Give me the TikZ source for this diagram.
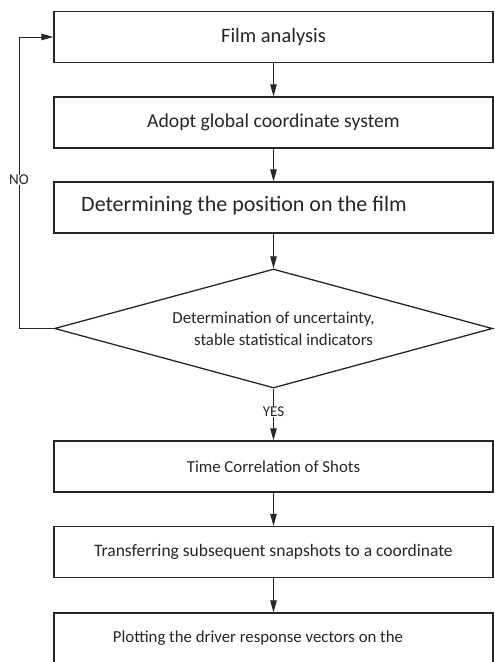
\documentclass[tikz,border=0pt]{standalone}
\usepackage{fontspec}
\setmainfont{Carlito}
\usetikzlibrary{shapes.geometric, arrows.meta}

\begin{document}
\begin{tikzpicture}[x=1pt, y=-1pt,
    box/.style={draw=black!85, line width=1.3pt, rectangle, minimum width=439pt,
        minimum height=51pt, inner sep=0pt, text=black!85, font=\fontsize{16.8}{20}\selectfont},
    decision/.style={draw=black!85, line width=1.3pt, diamond, aspect=3.68,
        minimum width=438pt, minimum height=119pt, inner sep=0pt, align=center, text=black!85,
        font=\fontsize{16.8}{22}\selectfont},
    arr/.style={-{Triangle[length=12pt, width=6.5pt]}, line width=1pt, black!85},
    lbl/.style={font=\fontsize{15}{17}\selectfont, text=black!85, inner sep=0pt}]
    \useasboundingbox (0,0) rectangle (495,662);
    \clip (0,0) rectangle (495,662);

    \node[box, font=\fontsize{20.5}{24}\selectfont] (film) at (273.5,37) {Film analysis};
    \node[box, font=\fontsize{19.7}{24}\selectfont] (adopt) at (273.5,122.5) {Adopt global coordinate system};
    \node[box] (pos) at (273.5,207.5) {};
    \node[lbl, font=\fontsize{22}{26}\selectfont] (postxt) at (244,206) {Determining the position on the film};
    \node[decision] (unc) at (273.5,328.5) {Determination of uncertainty,\\ \hspace{1.2em}stable statistical indicators};
    \node[box] (time) at (273.5,466.5) {Time Correlation of Shots};
    \node[box, font=\fontsize{17.5}{20}\selectfont] (trans) at (273.5,552) {Transferring subsequent snapshots to a coordinate};
    \node[box, minimum height=60pt] (plot) at (273.5,643) {};
    \node[lbl, font=\fontsize{16.8}{20}\selectfont] (plottxt) at (258,638) {Plotting the driver response vectors on the};

    \coordinate (c1) at (19,328.5);
    \coordinate (c2) at (19,37);
    \node[lbl] (no) at (19,180) {NO};
    \node[lbl] (yes) at (273.5,412) {YES};

    \draw[arr] (film) -- (adopt);
    \draw[arr] (adopt) -- (pos);
    \draw[arr] (pos) -- (unc);
    \draw[line width=1pt, black!85] (unc.west) -- (c1) -- (no.south);
    \draw[arr] (no.north) -- (c2) -- (film.west);
    \draw[line width=1pt, black!85] (unc.south) -- (yes.north);
    \draw[arr] (yes.south) -- (time);
    \draw[arr] (time) -- (trans);
    \draw[arr] (trans) -- (plot);
\end{tikzpicture}
\end{document}
